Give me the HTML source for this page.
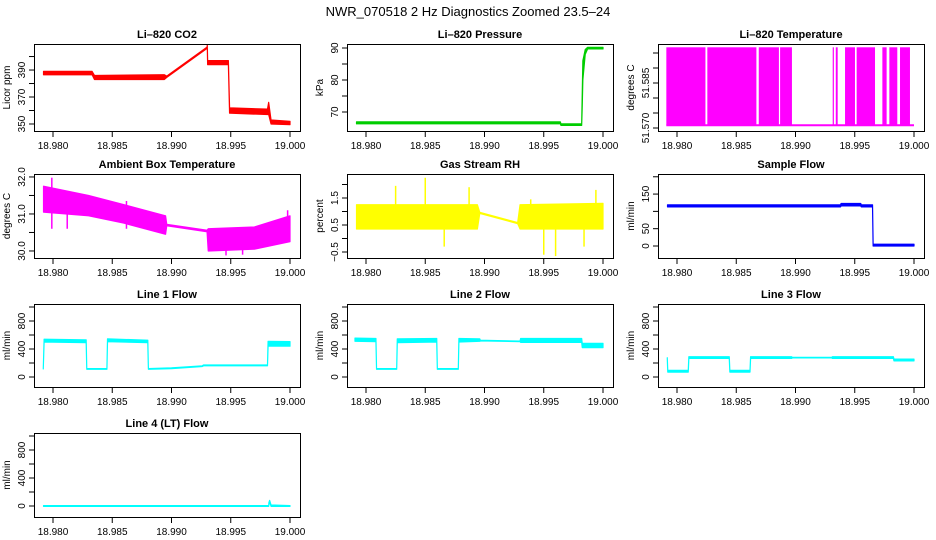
<!DOCTYPE html>
<html><head><meta charset="utf-8"><style>
html,body{margin:0;padding:0;background:#fff;}
svg{display:block;font-family:"Liberation Sans",sans-serif;}
</style></head><body>
<svg id="chart" width="936" height="540" viewBox="0 0 936 540">
<text x="468" y="16" text-anchor="middle" font-size="13">NWR_070518  2 Hz Diagnostics Zoomed 23.5–24</text>
</svg>
<script>
// ---- shared x ticks ----
const xTicks = [18.980, 18.985, 18.990, 18.995, 19.000];
const xTickLabels = ["18.980", "18.985", "18.990", "18.995", "19.000"];

// ---- CO2 ----
const co2T  = [18.9792,18.9833,18.9835,18.9894,18.9896,18.9930,18.99302,18.99305,18.9948,18.9949,18.9981,18.9982,18.9984,19.0000];
const co2Lo = [386.5,386.5,383,383,384.5,406,407,394,394,358,357,357,350,349.5];
const co2Hi = [389,389,386,386.5,385.5,407,408.5,397,397,362,361,366,353,352];
// ---- Pressure ----
const presT  = [18.9792,18.9964,18.99645,18.9982,18.99825,18.9983,18.9985,18.9987,19.0000];
const presLo = [66.3,66.3,65.8,65.8,72,80,88,89.7,89.7];
const presHi = [66.9,66.9,66.3,66.3,76,86,89.5,90.2,90.2];
// ---- Li-820 temperature (filled bar intervals) ----
const tempStart = [18.9791,18.98256,18.9869,18.9887,18.99314,18.9934,18.99418,18.99516,18.99733,18.99792,18.99882];
const tempEnd   = [18.9824,18.9867,18.9886,18.9897,18.99324,18.99356,18.99502,18.99671,18.99769,18.99859,18.99966];
const tempLow = 51.5709, tempHigh = 51.5969;
// ---- Ambient box temperature ----
const ambT  = [18.9792,18.9830,18.9860,18.9895,18.9896,18.9930,18.9931,18.9970,19.0000];
const ambLo = [31.05,30.95,30.75,30.45,30.68,30.52,30.0,30.05,30.25];
const ambHi = [31.75,31.5,31.25,30.95,30.72,30.56,30.6,30.65,30.95];
// ---- Gas stream RH ----
const rhT  = [18.9792,18.9894,18.9896,18.9928,18.9930,19.0000];
const rhLo = [0.35,0.35,0.93,0.55,0.35,0.35];
const rhHi = [1.25,1.25,0.97,0.59,1.25,1.3];
const rhSpikeT = [18.9825,18.9850,18.9866,18.9887,18.9939,18.9950,18.9960,18.9984,18.9994];
const rhSpikeV = [1.95,2.25,-0.3,1.9,1.45,-0.6,-0.65,-0.3,1.8];
// ---- Sample flow ----
const sfT  = [18.9792,18.9938,18.99385,18.9955,18.99555,18.9965,18.99655,19.0000];
const sfLo = [113,113,116,116,113,113,0,0];
const sfHi = [119,119,123,123,119,119,5,5];
// ---- Line 1 ----
const l1T  = [18.97918,18.97925,18.9828,18.98285,18.98455,18.9846,18.9880,18.98805,18.9900,18.9926,18.9927,18.9981,18.99815,19.0000];
const l1Lo = [115,500,490,110,110,505,490,110,120,150,160,160,440,440];
const l1Hi = [120,540,530,120,120,545,525,120,130,160,172,172,510,505];
// ---- Line 2 ----
const l2T  = [18.97907,18.98084,18.98089,18.98259,18.98264,18.98597,18.98602,18.98779,18.98784,18.9896,18.98965,18.9930,18.99305,18.9982,18.99825,19.0000];
const l2Lo = [510,505,110,110,490,500,110,110,500,510,515,505,495,495,420,420];
const l2Hi = [555,550,120,120,545,550,120,120,550,545,525,512,550,550,480,480];
// ---- Line 3 ----
const l3T  = [18.97918,18.97922,18.98095,18.98100,18.98441,18.98446,18.98616,18.98621,18.98968,18.98973,18.99306,18.99311,18.99826,18.99831,19.0000];
const l3Lo = [265,70,70,265,265,70,70,265,265,272,272,265,265,230,230];
const l3Hi = [275,95,95,290,290,95,95,290,290,280,280,290,290,255,255];
// ---- Line 4 ----
const l4T  = [18.9792,18.9982,18.99822,18.99828,18.9984,19.0000];
const l4Lo = [-5,-5,20,60,-5,-5];
const l4Hi = [5,5,50,80,15,5];

const svg = document.getElementById('chart');
const NS = 'http://www.w3.org/2000/svg';
const colsX = [34, 347, 658];
const rowsY = [[44,131],[174,258],[304,387],[433,517]];
const PW = 266;

function mk(tag, attrs, parent){
  const e = document.createElementNS(NS, tag);
  for (const k in attrs) e.setAttribute(k, attrs[k]);
  (parent||svg).appendChild(e);
  return e;
}

function panel(cfg){
  const g = mk('g', {});
  
  
  const L = colsX[cfg.col], T = rowsY[cfg.row][0], B = rowsY[cfg.row][1];
  const sx = t => L + 19 + (t - 18.98) / 0.02 * 237;
  const sy = v => B - (v - cfg.ymin) / (cfg.ymax - cfg.ymin) * (B - T);
  // title
  const tt = mk('text', {x: L + PW/2, y: T - 6, 'text-anchor':'middle', 'font-size':11, 'font-weight':'bold'}, g);
  tt.textContent = cfg.title;
  
  
  // series
  const sg = mk('g', {}, g);
  
  
  if (cfg.band){
    const [ts, lo, hi] = cfg.band;
    let pts = [];
    for (let i=0;i<ts.length;i++) pts.push(sx(ts[i]).toFixed(2)+','+sy(hi[i]).toFixed(2));
    for (let i=ts.length-1;i>=0;i--) pts.push(sx(ts[i]).toFixed(2)+','+sy(lo[i]).toFixed(2));
    const p = mk('polygon', {points: pts.join(' '), fill: cfg.color, stroke: cfg.color, 'stroke-width': 1.2, 'stroke-linejoin':'round'}, sg);
    
    
  }
  if (cfg.bars){
    const [st, en, lo, hi] = cfg.bars;
    for (let i=0;i<st.length;i++){
      const r = mk('rect', {x: sx(st[i]), y: sy(hi), width: Math.max(1, sx(en[i]) - sx(st[i])), height: sy(lo) - sy(hi), fill: cfg.color}, sg);
      
      
    }
    const bl = mk('line', {x1: sx(18.9791), x2: sx(19.0), y1: sy(lo), y2: sy(lo), stroke: cfg.color, 'stroke-width': 2}, sg);
    
    
  }
  if (cfg.spikes){
    const [ts, vs, base] = cfg.spikes;
    for (let i=0;i<ts.length;i++){
      const s = mk('line', {x1: sx(ts[i]), x2: sx(ts[i]), y1: sy(base), y2: sy(vs[i]), stroke: cfg.color, 'stroke-width': 1.5}, sg);
      
      
    }
  }
  // box
  const box = mk('rect', {x: L+0.5, y: T+0.5, width: PW, height: B-T, fill:'none', stroke:'#000', 'stroke-width':1}, g);
  
  
  // x axis
  xTicks.forEach((t,i)=>{
    const x = sx(t);
    mk('line', {x1:x, x2:x, y1:B+0.5, y2:B+6, stroke:'#000'}, g);
    const lb = mk('text', {x:x, y:B+18, 'text-anchor':'middle', 'font-size':10}, g);
    lb.textContent = xTickLabels[i];
    
    
  });
  // y axis
  cfg.yTicks.forEach(v=>{
    const y = sy(v);
    mk('line', {x1:L-5, x2:L+0.5, y1:y, y2:y, stroke:'#000'}, g);
  });
  cfg.yLabels.forEach((s,i)=>{
    const y = sy(cfg.yLabelVals[i]);
    const lb = mk('text', {x:L-9, y:y, 'text-anchor':'middle', 'font-size':10, transform:`rotate(-90 ${L-9} ${y})`}, g);
    lb.textContent = s;
    
    
  });
  const yt = mk('text', {x:L-24, y:(T+B)/2, 'text-anchor':'middle', 'font-size':10, transform:`rotate(-90 ${L-24} ${(T+B)/2})`}, g);
  yt.textContent = cfg.ylab;
  
  
}

const flowTicks = [0,200,400,600,800,1000];
panel({name:'co2-panel', title:'Li–820 CO2', col:0,row:0, ymin:344.8,ymax:409.3, color:'#ff0000', band:[co2T,co2Lo,co2Hi],
  yTicks:[350,360,370,380,390,400], yLabelVals:[350,370,390], yLabels:['350','370','390'], ylab:'Licor ppm'});
panel({name:'pressure-panel', title:'Li–820 Pressure', col:1,row:0, ymin:64.06,ymax:91.25, color:'#00cd00', band:[presT,presLo,presHi],
  yTicks:[70,75,80,85,90], yLabelVals:[70,80,90], yLabels:['70','80','90'], ylab:'kPa'});
panel({name:'temperature-panel', title:'Li–820 Temperature', col:2,row:0, ymin:51.569,ymax:51.598, color:'#ff00ff', bars:[tempStart,tempEnd,tempLow,tempHigh],
  yTicks:[51.570,51.575,51.580,51.585,51.590,51.595], yLabelVals:[51.570,51.585], yLabels:['51.570','51.585'], ylab:'degrees C'});
panel({name:'ambient-temp-panel', title:'Ambient Box Temperature', col:0,row:1, ymin:29.81,ymax:32.08, color:'#ff00ff', band:[ambT,ambLo,ambHi],
  spikes:[[18.9799,18.9812,18.9862,18.9946,18.9960,18.9998],[31.98,31.6,31.35,29.88,29.9,31.1],30.6],
  yTicks:[30,30.5,31,31.5,32], yLabelVals:[30,31,32], yLabels:['30.0','31.0','32.0'], ylab:'degrees C'});
panel({name:'gas-rh-panel', title:'Gas Stream RH', col:1,row:1, ymin:-0.722,ymax:2.389, color:'#ffff00', band:[rhT,rhLo,rhHi],
  spikes:[rhSpikeT,rhSpikeV,0.8],
  yTicks:[-0.5,0,0.5,1,1.5,2], yLabelVals:[-0.5,0.5,1.5], yLabels:['−0.5','0.5','1.5'], ylab:'percent'});
panel({name:'sample-flow-panel', title:'Sample Flow', col:2,row:1, ymin:-34.7,ymax:208, color:'#0000ff', band:[sfT,sfLo,sfHi],
  yTicks:[0,50,100,150,200], yLabelVals:[0,50,150], yLabels:['0','50','150'], ylab:'ml/min'});
panel({name:'line1-flow-panel', title:'Line 1 Flow', col:0,row:2, ymin:-143,ymax:1043, color:'#00ffff', band:[l1T,l1Lo,l1Hi],
  yTicks:flowTicks, yLabelVals:[0,400,800], yLabels:['0','400','800'], ylab:'ml/min'});
panel({name:'line2-flow-panel', title:'Line 2 Flow', col:1,row:2, ymin:-143,ymax:1043, color:'#00ffff', band:[l2T,l2Lo,l2Hi],
  yTicks:flowTicks, yLabelVals:[0,400,800], yLabels:['0','400','800'], ylab:'ml/min'});
panel({name:'line3-flow-panel', title:'Line 3 Flow', col:2,row:2, ymin:-143,ymax:1043, color:'#00ffff', band:[l3T,l3Lo,l3Hi],
  yTicks:flowTicks, yLabelVals:[0,400,800], yLabels:['0','400','800'], ylab:'ml/min'});
panel({name:'line4-flow-panel', title:'Line 4 (LT) Flow', col:0,row:3, ymin:-157,ymax:1043, color:'#00ffff', band:[l4T,l4Lo,l4Hi],
  yTicks:flowTicks, yLabelVals:[0,400,800], yLabels:['0','400','800'], ylab:'ml/min'});
</script>
</body></html>
